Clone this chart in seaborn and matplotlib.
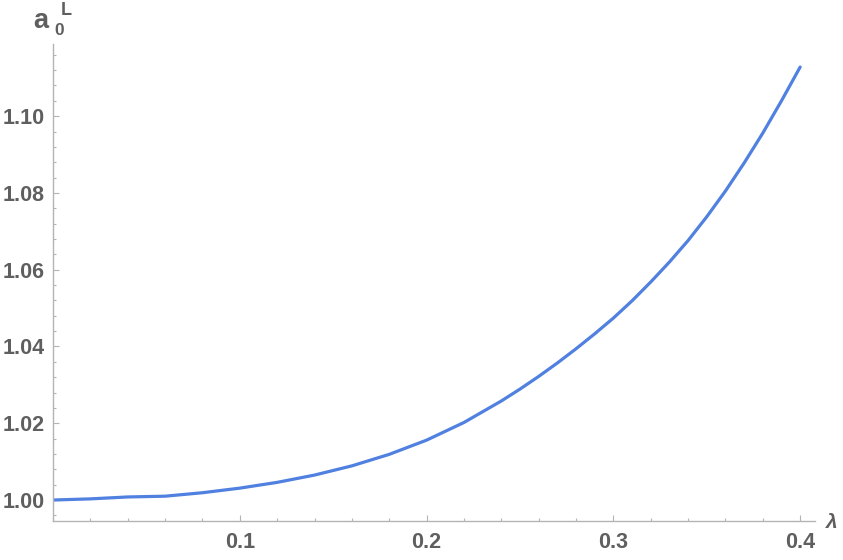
import matplotlib

matplotlib.use("Agg")

import matplotlib.pyplot as plt
import pandas as pd
import seaborn as sns
from matplotlib.ticker import FixedLocator, MultipleLocator, FormatStrFormatter

# values
lam = [0.00, 0.02, 0.04, 0.06, 0.08, 0.10, 0.12, 0.14, 0.16, 0.18, 0.20,
       0.22, 0.24, 0.25, 0.26, 0.27, 0.28, 0.29, 0.30, 0.31, 0.32, 0.33,
       0.34, 0.35, 0.36, 0.37, 0.38, 0.39, 0.40]
a0_L = [1.0000, 1.0003, 1.0008, 1.0010, 1.0019, 1.0031, 1.0046, 1.0065,
        1.0089, 1.0119, 1.0156, 1.0202, 1.0258, 1.0289, 1.0322, 1.0357,
        1.0394, 1.0433, 1.0474, 1.0519, 1.0568, 1.0620, 1.0676, 1.0738,
        1.0805, 1.0878, 1.0956, 1.1040, 1.1128]

x_ticks = [0.1, 0.2, 0.3, 0.4]
y_ticks = [1.00, 1.02, 1.04, 1.06, 1.08, 1.10]

AXIS_GRAY = "#b4b4b4"
LABEL_GRAY = "#5f5f5f"
LINE_BLUE = "#5080e0"

sns.set_style("ticks")
plt.rcParams["font.family"] = ["Liberation Sans", "DejaVu Sans"]

df = pd.DataFrame({"lam": lam, "a0": a0_L})

fig = plt.figure(figsize=(8.43, 5.60), dpi=100)
ax = fig.add_axes([0.0629, 0.0696, 0.904, 0.8518])

sns.lineplot(data=df, x="lam", y="a0", color=LINE_BLUE, linewidth=2.3, ax=ax)

ax.set_xlim(0, 0.408)
ax.set_ylim(0.99453, 1.1188)

ax.xaxis.set_major_locator(FixedLocator(x_ticks))
ax.xaxis.set_minor_locator(MultipleLocator(0.02))
ax.yaxis.set_major_locator(FixedLocator(y_ticks))
ax.yaxis.set_minor_locator(MultipleLocator(0.004))
ax.xaxis.set_major_formatter(FormatStrFormatter("%.1f"))
ax.yaxis.set_major_formatter(FormatStrFormatter("%.2f"))

for side in ["top", "right"]:
    ax.spines[side].set_visible(False)
for side in ["left", "bottom"]:
    ax.spines[side].set_color(AXIS_GRAY)
    ax.spines[side].set_linewidth(1.0)

ax.tick_params(which="both", direction="in", color=AXIS_GRAY, width=0.8)
ax.tick_params(which="major", length=4)
ax.tick_params(which="minor", length=2.5)
ax.tick_params(axis="y", which="major", pad=6)
ax.tick_params(axis="x", which="major", pad=8)
for lbl in ax.get_xticklabels() + ax.get_yticklabels():
    lbl.set_fontsize(15.5)
    lbl.set_fontweight("bold")
    lbl.set_color(LABEL_GRAY)

ax.set_xlabel("")
ax.set_ylabel("")

# axis labels placed like the original
fig.text(33 / 843, 1 - 28 / 560, "a", fontsize=19.5, fontweight="bold",
         color=LABEL_GRAY, ha="left", va="baseline")
fig.text(54 / 843, 1 - 35 / 560, "0", fontsize=12.5, fontweight="bold",
         color=LABEL_GRAY, ha="left", va="baseline")
fig.text(61 / 843, 1 - 15 / 560, "L", fontsize=13, fontweight="bold",
         color=LABEL_GRAY, ha="left", va="baseline")
fig.text(826 / 843, 1 - 528 / 560, "λ", fontsize=15, fontweight="bold",
         fontstyle="italic", color=LABEL_GRAY, ha="left", va="baseline")

fig.savefig("out.png", dpi=100)
